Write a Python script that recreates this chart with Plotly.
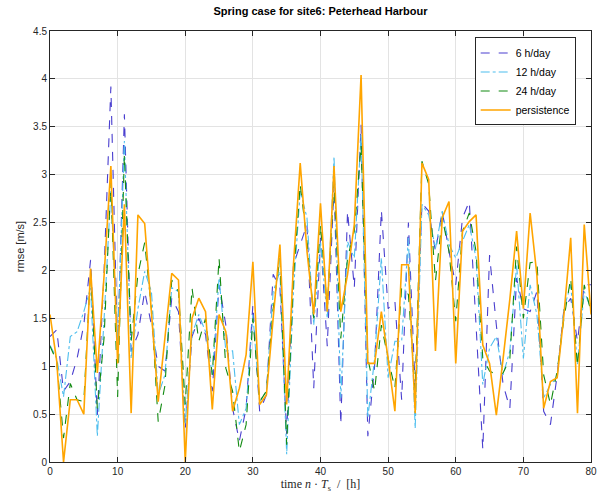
import plotly.graph_objects as go

hours = list(range(81))

rmse_6h = [1.31, 1.38, 0.74, 0.84, 1.08, 1.43, 2.11, 0.49, 2.0, 3.92,
           1.16, 3.63, 1.16, 1.33, 1.78, 1.43, 1.0, 0.95, 1.71, 1.57,
           0.34, 1.31, 1.5, 1.33, 0.74, 1.85, 1.43, 0.56, 0.22, 0.56,
           1.64, 0.53, 0.7, 1.96, 1.82, 0.29, 2.06, 2.27, 2.48, 0.77,
           2.34, 1.21, 2.9, 0.39, 2.62, 1.82, 3.52, 0.27, 1.0, 2.63,
           1.6, 1.68, 0.65, 2.5, 0.77, 2.7, 2.62, 2.2, 2.62, 2.2,
           1.85, 2.55, 2.72, 1.43, 0.13, 2.16, 1.43, 0.81, 0.56, 1.92,
           1.6, 1.57, 1.78, 0.53, 0.39, 0.91, 1.6, 1.71, 1.26, 1.85, 1.85]

rmse_12h = [1.22, 1.08, 0.68, 1.31, 1.36, 1.57, 1.82, 0.27, 1.5, 2.83,
            1.26, 3.35, 1.08, 1.6, 1.99, 1.78, 0.7, 0.91, 1.82, 1.78,
            0.39, 1.33, 1.54, 1.36, 0.91, 1.92, 1.16, 1.16, 0.39, 0.56,
            1.54, 0.63, 0.74, 1.78, 1.99, 0.08, 1.78, 2.83, 2.55, 1.43,
            2.3, 1.5, 3.19, 0.67, 2.3, 2.13, 3.42, 0.46, 1.08, 2.13,
            0.88, 1.26, 1.26, 2.34, 0.35, 2.69, 2.58, 2.23, 2.62, 2.27,
            2.13, 2.3, 2.48, 2.13, 0.81, 1.19, 1.31, 0.91, 1.16, 2.06,
            1.08, 1.85, 1.54, 0.67, 0.81, 0.88, 1.6, 1.85, 1.02, 1.78, 1.6]

rmse_24h = [1.21, 1.05, 0.25, 0.82, 0.65, 0.63, 1.99, 0.56, 1.3, 2.93,
            0.68, 3.21, 1.26, 1.96, 2.29, 1.6, 0.42, 0.8, 1.9, 1.78,
            0.6, 1.82, 1.26, 1.5, 0.91, 2.13, 0.98, 0.74, 0.11, 0.39,
            1.5, 0.63, 0.74, 1.6, 2.13, 0.18, 1.92, 2.9, 2.3, 1.5,
            2.48, 1.6, 2.93, 1.29, 2.13, 2.41, 3.31, 1.08, 0.74, 1.43,
            1.08, 0.77, 1.82, 1.75, 0.74, 3.14, 2.9, 1.89, 2.55, 2.2,
            1.47, 2.41, 2.6, 2.2, 1.08, 0.95, 0.91, 0.93, 1.08, 2.25,
            1.5, 2.08, 2.09, 0.91, 0.6, 0.95, 1.5, 1.92, 1.0, 1.85, 1.57]

rmse_persist = [1.54, 1.05, 0.0, 0.65, 0.65, 0.5, 2.02, 0.93, 1.95, 3.09,
                1.03, 2.69, 0.51, 2.58, 2.49, 1.57, 0.63, 1.3, 1.97, 1.9,
                0.0, 1.5, 1.71, 1.57, 0.55, 1.54, 1.36, 0.53, 0.77, 1.12,
                2.09, 0.6, 0.7, 1.5, 2.27, 0.6, 2.06, 3.12, 2.2, 1.54,
                2.7, 1.57, 3.09, 1.57, 1.96, 2.48, 4.04, 1.03, 1.03, 1.57,
                1.08, 0.53, 2.06, 2.06, 0.51, 3.12, 2.95, 1.16, 2.55, 2.72,
                1.03, 2.41, 2.51, 2.58, 1.22, 1.03, 0.49, 1.08, 1.7, 2.41,
                1.6, 2.6, 1.95, 0.56, 0.84, 0.88, 1.54, 2.34, 0.51, 2.48, 1.54]

series = [
    ("6 h/day", rmse_6h, "#4a3fcf", "dash", 1.1),
    ("12 h/day", rmse_12h, "#4dbeee", "dashdot", 1.1),
    ("24 h/day", rmse_24h, "#118a11", "dash", 1.1),
    ("persistence", rmse_persist, "#ffa500", "solid", 1.6),
]

fig = go.Figure()
for name, vals, col, dash, w in series:
    fig.add_trace(go.Scatter(x=hours, y=vals, mode="lines", name=name,
                             line=dict(color=col, dash=dash, width=w)))

axis_common = dict(
    showgrid=True, gridcolor="#e3e3e3", gridwidth=1,
    showline=True, linecolor="#262626", linewidth=1, mirror="allticks",
    ticks="inside", ticklen=5, tickcolor="#262626",
    zeroline=False, ticklabeloverflow="allow",
    tickfont=dict(family="Liberation Sans, Arial", size=10, color="#262626"),
)

fig.update_layout(
    width=602, height=495,
    margin=dict(l=50, r=5, t=31, b=33),
    paper_bgcolor="white", plot_bgcolor="white",
    title=dict(text="<b>Spring case for site6: Peterhead Harbour</b>",
               x=0.5, xanchor="center", xref="paper", y=0.985, yanchor="top",
               font=dict(family="Liberation Sans, Arial", size=11, color="black")),
    xaxis=dict(range=[0, 80], tickvals=list(range(0, 81, 10)),
               title=dict(text="time <i>n</i> · <i>T</i><sub>s</sub>  /  [h]", standoff=2,
                          font=dict(family="Liberation Serif, DejaVu Serif", size=12, color="#262626")),
               **axis_common),
    yaxis=dict(range=[0, 4.5], tickvals=[i * 0.5 for i in range(10)],
               ticktext=["0", "0.5", "1", "1.5", "2", "2.5", "3", "3.5", "4", "4.5"],
               title=dict(text="rmse [m/s]", standoff=6,
                          font=dict(family="Liberation Sans, Arial", size=11, color="#262626")),
               **axis_common),
    legend=dict(x=0.785, y=0.985, xanchor="left", yanchor="top",
                bgcolor="white", bordercolor="#262626", borderwidth=1,
                font=dict(family="Liberation Sans, Arial", size=10.5, color="black"),
                tracegroupgap=0, itemwidth=30),
    showlegend=True,
)

fig.write_html("out.html")
